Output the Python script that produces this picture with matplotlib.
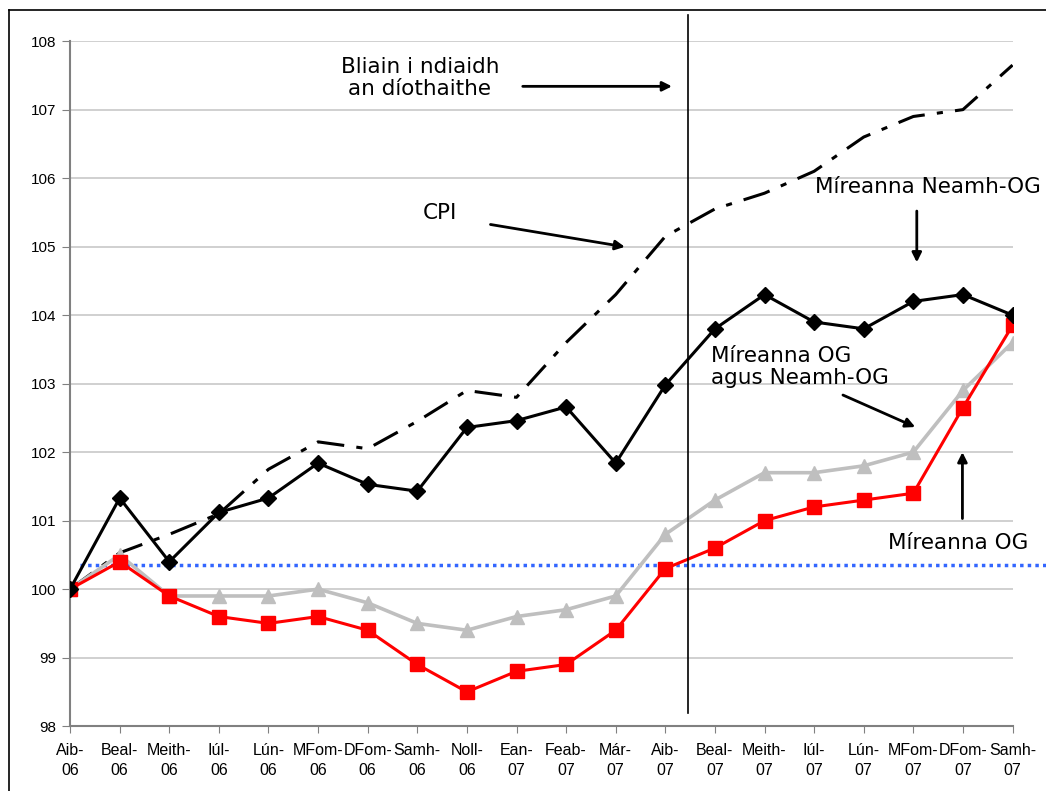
import matplotlib.pyplot as plt
from matplotlib.lines import Line2D

months = ['Aib-\n06', 'Beal-\n06', 'Meith-\n06', 'Iúl-\n06', 'Lún-\n06', 'MFom-\n06', 'DFom-\n06',
          'Samh-\n06', 'Noll-\n06', 'Ean-\n07', 'Feab-\n07', 'Már-\n07', 'Aib-\n07', 'Beal-\n07',
          'Meith-\n07', 'Iúl-\n07', 'Lún-\n07', 'MFom-\n07', 'DFom-\n07', 'Samh-\n07']

cpi = [100.0, 100.53, 100.8, 101.1, 101.75, 102.15, 102.05, 102.45, 102.9, 102.8,
       103.6, 104.3, 105.15, 105.55, 105.78, 106.1, 106.6, 106.9, 107.0, 107.65]
neamh_og = [100.0, 101.33, 100.4, 101.12, 101.33, 101.84, 101.53, 101.43, 102.36, 102.46,
            102.66, 101.84, 102.98, 103.8, 104.3, 103.9, 103.8, 104.2, 104.3, 104.0]
og_agus = [100.0, 100.5, 99.9, 99.9, 99.9, 100.0, 99.8, 99.5, 99.4, 99.6,
           99.7, 99.9, 100.8, 101.3, 101.7, 101.7, 101.8, 102.0, 102.9, 103.6]
og = [100.0, 100.4, 99.9, 99.6, 99.5, 99.6, 99.4, 98.9, 98.5, 98.8,
      98.9, 99.4, 100.3, 100.6, 101.0, 101.2, 101.3, 101.4, 102.65, 103.85]
baseline = 100.35
break_pos = 12.45

x = list(range(len(months)))

fig = plt.figure(figsize=(10.46, 7.91), dpi=100)
ax = fig.add_axes([0.067, 0.082, 0.901, 0.866])

for v in range(98, 109):
    ax.axhline(v, color='#c8c8c8', lw=1.2, zorder=0)

ax.plot(x, cpi, color='black', lw=2.2, dashes=(9, 4, 2, 4), zorder=3)
ax.plot(x, og_agus, color='#bfbfbf', lw=2.6, marker='^', ms=10, zorder=4)
ax.plot(x, og, color='red', lw=2.2, marker='s', ms=10, zorder=5)
ax.plot(x, neamh_og, color='black', lw=2.2, marker='D', ms=8, zorder=6)

ax.plot([0.2, 19.7], [baseline, baseline], color='#3366ff', lw=2.5, ls=(0, (1, 1.2)),
        clip_on=False, zorder=2)
ax.plot([break_pos, break_pos], [98.19, 108.38], color='black', lw=1.2, clip_on=False, zorder=7)

ax.set_xlim(0, 19)
ax.set_ylim(98, 108)
ax.set_yticks(range(98, 109))
ax.set_xticks(x)
ax.set_xticklabels(months, fontsize=11.5, family='Liberation Sans', linespacing=1.4)
for lab in ax.get_yticklabels():
    lab.set_family('Liberation Sans')
    lab.set_fontsize(11)
ax.tick_params(axis='y', length=6, color='#808080', pad=4)
ax.tick_params(axis='x', length=5, color='#808080', direction='out', pad=7)
for s in ['top', 'right']:
    ax.spines[s].set_visible(False)
for s in ['left', 'bottom']:
    ax.spines[s].set_color('#808080')
    ax.spines[s].set_linewidth(1.5)

arrow = dict(arrowstyle='-|>', color='black', lw=2, mutation_scale=14)
tf = dict(fontsize=15.5, family='DejaVu Sans', linespacing=1.1)
ax.text(7.05, 107.46, 'Bliain i ndiaidh\nan díothaithe', ha='center', va='center', **tf)
ax.annotate('', xy=(12.19, 107.34), xytext=(9.07, 107.34), arrowprops=arrow)
ax.text(7.46, 105.49, 'CPI', ha='center', va='center', **tf)
ax.annotate('', xy=(11.24, 104.99), xytext=(8.42, 105.33), arrowprops=arrow)
ax.text(17.3, 105.87, 'Míreanna Neamh-OG', ha='center', va='center', **tf)
ax.annotate('', xy=(17.07, 104.73), xytext=(17.07, 105.56), arrowprops=arrow)
ax.text(12.92, 103.24, 'Míreanna OG\nagus Neamh-OG', ha='left', va='center', **tf)
ax.annotate('', xy=(17.09, 102.35), xytext=(15.53, 102.85), arrowprops=arrow)
ax.text(17.9, 100.67, 'Míreanna OG', ha='center', va='center', **tf)
ax.annotate('', xy=(17.99, 102.04), xytext=(17.99, 100.99), arrowprops=arrow)

# outer chart frame (top and left visible)
fig.add_artist(Line2D([9 / 1046, 9 / 1046], [0, 1 - 10 / 791], color='black', lw=1.2))
fig.add_artist(Line2D([9 / 1046, 1], [1 - 10 / 791, 1 - 10 / 791], color='black', lw=1.2))

fig.savefig('out.png', dpi=100)
